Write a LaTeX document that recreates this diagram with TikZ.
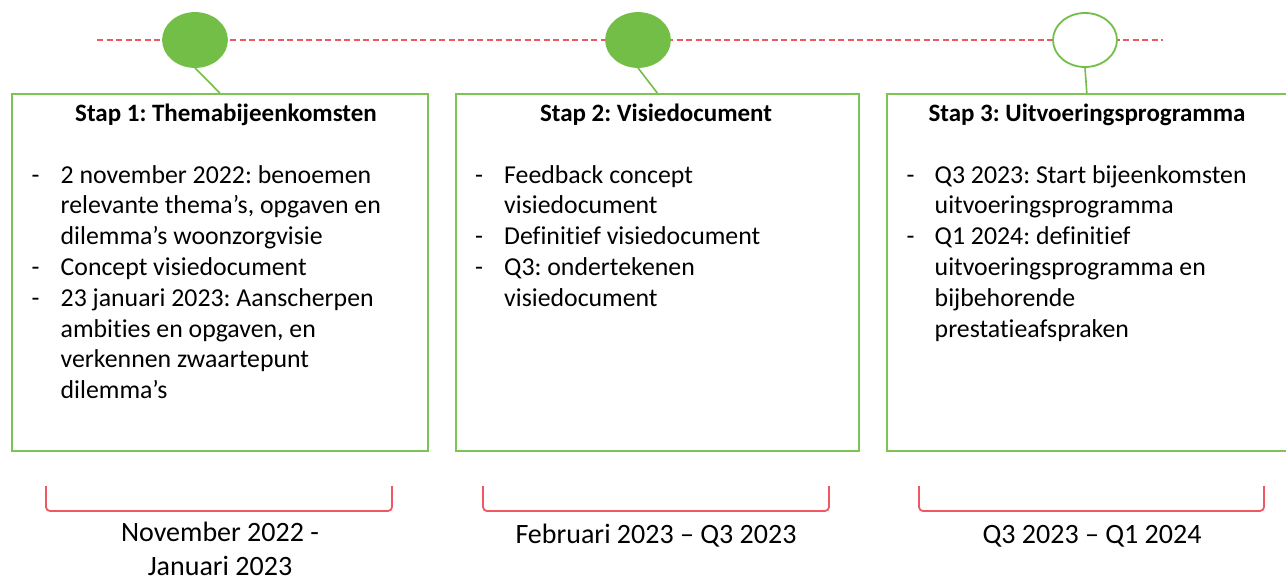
\documentclass[tikz,border=0pt]{standalone}
\usepackage{fontspec}
\setmainfont{Carlito}[Ligatures=NoCommon]
\frenchspacing
\definecolor{mijlgroen}{RGB}{114,190,70}
\definecolor{kadergroen}{RGB}{124,196,84}
\definecolor{lijnrood}{RGB}{238,88,96}
\colorlet{groen}{mijlgroen}
\colorlet{rood}{lijnrood}
\usetikzlibrary{positioning, shapes.geometric}

\begin{document}
\begin{tikzpicture}[x=1pt, y=-1pt,
  mijlpaal/.style={ellipse, fill=groen, draw=groen, line width=1.8pt,
    minimum width=64pt, minimum height=54pt, inner sep=0pt},
  stapbox/.style={draw=kadergroen, line width=1.6pt, anchor=north west,
    minimum height=357pt, inner sep=0pt},
  staptitel/.style={anchor=base, font={\fontsize{25}{30.8}\selectfont\bfseries}},
  punten/.style={anchor=base west, inner sep=0pt,
    font={\fontsize{25.8}{30.8}\selectfont}},
  periode/.style={anchor=base, align=center, inner sep=0pt,
    font={\fontsize{28}{34}\selectfont}},
  tijdlijn/.style={draw=rood, line width=1.6pt, dash pattern=on 6pt off 3.5pt},
  verbinder/.style={draw=groen, line width=1.6pt},
  haak/.style={draw=rood, line width=1.8pt, rounded corners=4pt},
]
  \useasboundingbox (0,0) rectangle (1286,582);

  % tijdlijn met mijlpalen
  \coordinate (lijnbegin) at (97,40);
  \coordinate (lijneind) at (1163,40);
  \draw[tijdlijn] (lijnbegin) -- (lijneind);
  \node[mijlpaal] (m1) at (195,40) {};
  \node[mijlpaal] (m2) at (638,40) {};
  \node[mijlpaal, fill=white] (m3) at (1085,40) {};

  % kaders per stap
  \node[stapbox, minimum width=416pt] (b1) at (11,93) {};
  \node[stapbox, minimum width=403pt] (b2) at (455,93) {};
  \node[stapbox, minimum width=400pt] (b3) at (886,93) {};
  \draw[verbinder] (m1.south) -- (b1.north);
  \draw[verbinder] (m2.south) -- (b2.north);
  \draw[verbinder] (m3.south) -- (b3.north);

  \node[staptitel] (t1) at (226,121) {Stap 1: Themabijeenkomsten};
  \node[staptitel] (t2) at (656,121) {Stap 2: Visiedocument};
  \node[staptitel] (t3) at (1087,121) {Stap 3: Uitvoeringsprogramma};

  \node[punten] (l1) at (31.5,183) {\begin{tabular}[t]{@{}p{29pt}@{}l@{}}
    - & 2 november 2022: benoemen\\
      & relevante thema’s, opgaven en\\
      & dilemma’s woonzorgvisie\\
    - & Concept visiedocument\\
    - & 23 januari 2023: Aanscherpen\\
      & ambities en opgaven, en\\
      & verkennen zwaartepunt\\
      & dilemma’s
  \end{tabular}};
  \node[punten] (l2) at (475,183) {\begin{tabular}[t]{@{}p{29pt}@{}l@{}}
    - & Feedback concept\\
      & visiedocument\\
    - & Definitief visiedocument\\
    - & Q3: ondertekenen\\
      & visiedocument
  \end{tabular}};
  \node[punten] (l3) at (906.5,183) {\begin{tabular}[t]{@{}p{28pt}@{}l@{}}
    - & Q3 2023: Start bijeenkomsten\\
      & uitvoeringsprogramma\\
    - & Q1 2024: definitief\\
      & uitvoeringsprogramma en\\
      & bijbehorende\\
      & prestatieafspraken
  \end{tabular}};

  % looptijd per stap
  \draw[haak] (46,486) -- (46,511) -- (392,511) -- (392,486);
  \draw[haak] (483,486) -- (483,511) -- (829,511) -- (829,486);
  \draw[haak] (919,486) -- (919,511) -- (1264,511) -- (1264,486);
  \node[periode] (p1) at (220,575) {November 2022 -\\Januari 2023};
  \node[periode] (p2) at (656,543) {Februari 2023 – Q3 2023};
  \node[periode] (p3) at (1092,543) {Q3 2023 – Q1 2024};
\end{tikzpicture}
\end{document}
